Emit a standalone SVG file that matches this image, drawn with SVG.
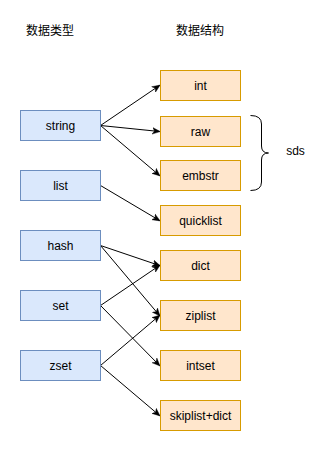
<svg xmlns="http://www.w3.org/2000/svg" width="331" height="451" viewBox="0 0 331 451">
<style>
text{font-family:"Liberation Sans","Noto Sans CJK SC",sans-serif;font-size:12px;fill:#000;text-anchor:middle;dominant-baseline:central}
.t rect{fill:#dae8fc;stroke:#6c8ebf;stroke-width:1}
.s rect{fill:#ffe6cc;stroke:#d79b00;stroke-width:1}
.e path{fill:none;stroke:#000;stroke-width:1;marker-end:url(#a)}
</style>
<defs>
<marker id="a" viewBox="0 0 10 10" refX="9" refY="5" markerWidth="8" markerHeight="8" markerUnits="userSpaceOnUse" orient="auto">
<path d="M0,0.8 L10,5 L0,9.2 L2.8,5 z" fill="#000" stroke="#000" stroke-width="0.5"/>
</marker>
</defs>
<rect width="331" height="451" fill="#fff"/>
<text id="h1" x="50" y="31">数据类型</text>
<text id="h2" x="200" y="31">数据结构</text>
<g class="e" id="edges">
<path d="M100.5,125.5 L159.5,85.5"/>
<path d="M100.5,125.5 L159.5,131.5"/>
<path d="M100.5,125.5 L159.5,175.5"/>
<path d="M100.5,185.5 L159.5,220.5"/>
<path d="M100.5,245.5 L159.5,265.5"/>
<path d="M100.5,245.5 L159.5,315.5"/>
<path d="M100.5,305.5 L159.5,265.5"/>
<path d="M100.5,305.5 L159.5,365.5"/>
<path d="M100.5,365.5 L159.5,315.5"/>
<path d="M100.5,365.5 L159.5,415.5"/>
</g>
<g class="t" id="string"><rect x="20.5" y="110.5" width="80" height="30"/><text x="60.5" y="125.5">string</text></g>
<g class="t" id="list"><rect x="20.5" y="170.5" width="80" height="30"/><text x="60.5" y="185.5">list</text></g>
<g class="t" id="hash"><rect x="20.5" y="230.5" width="80" height="30"/><text x="60.5" y="245.5">hash</text></g>
<g class="t" id="set"><rect x="20.5" y="290.5" width="80" height="30"/><text x="60.5" y="305.5">set</text></g>
<g class="t" id="zset"><rect x="20.5" y="350.5" width="80" height="30"/><text x="60.5" y="365.5">zset</text></g>
<g class="s" id="int"><rect x="160.5" y="70.5" width="80" height="30"/><text x="200.5" y="85.5">int</text></g>
<g class="s" id="raw"><rect x="160.5" y="116.5" width="80" height="30"/><text x="200.5" y="131.5">raw</text></g>
<g class="s" id="embstr"><rect x="160.5" y="160.5" width="80" height="30"/><text x="200.5" y="175.5">embstr</text></g>
<g class="s" id="quicklist"><rect x="160.5" y="205.5" width="80" height="30"/><text x="200.5" y="220.5">quicklist</text></g>
<g class="s" id="dict"><rect x="160.5" y="250.5" width="80" height="30"/><text x="200.5" y="265.5">dict</text></g>
<g class="s" id="ziplist"><rect x="160.5" y="300.5" width="80" height="30"/><text x="200.5" y="315.5">ziplist</text></g>
<g class="s" id="intset"><rect x="160.5" y="350.5" width="80" height="30"/><text x="200.5" y="365.5">intset</text></g>
<g class="s" id="skiplist"><rect x="160.5" y="400.5" width="80" height="30"/><text x="200.5" y="415.5">skiplist+dict</text></g>
<g id="brace">
<path d="M250.5,115.5 Q261.5,115.5 261.5,124 L261.5,146 Q261.5,153 268.5,153 Q261.5,153 261.5,160 L261.5,182 Q261.5,190.5 250.5,190.5" fill="none" stroke="#000" stroke-width="1"/>
</g>
<text id="sds" x="295.5" y="151">sds</text>
</svg>
